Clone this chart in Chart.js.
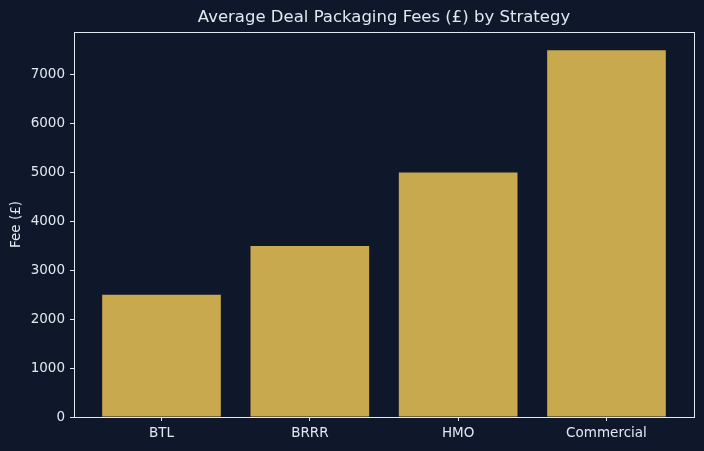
<!DOCTYPE html>
<html lang="en">
<head>
<meta charset="UTF-8">
<title>Average Deal Packaging Fees</title>
<style>
body { margin:0; padding:0; background:#0f172a; }
#wrap { width:704px; height:451px; }
</style>
</head>
<body>
<div id="wrap"><canvas id="chart" width="704" height="451"></canvas></div>
<script src="https://cdn.jsdelivr.net/npm/chart.js"></script>
<script>
const strategies = ['BTL', 'BRRR', 'HMO', 'Commercial'];
const fees = [2500, 3500, 5000, 7500];
const yTicks = [0, 1000, 2000, 3000, 4000, 5000, 6000, 7000];
const titleText = 'Average Deal Packaging Fees (£) by Strategy';

const fg = '#e2e8f0';
const font = 'DejaVu Sans, sans-serif';

// full box around the plot, plus a title centred over the axes (like matplotlib)
const boxPlugin = {
  id: 'box',
  afterDraw(chart) {
    const a = chart.chartArea, c = chart.ctx;
    c.save();
    c.strokeStyle = fg;
    c.lineWidth = 1;
    c.strokeRect(Math.round(a.left) + 0.5, Math.round(a.top) + 0.5,
      Math.round(a.right - a.left), Math.round(a.bottom - a.top));
    c.fillStyle = fg;
    c.font = '16.5px ' + font;
    c.textAlign = 'center';
    c.textBaseline = 'middle';
    c.fillText(titleText, (a.left + a.right) / 2, a.top - 14);
    c.restore();
  }
};

new Chart(document.getElementById('chart'), {
  type: 'bar',
  data: {
    datasets: [{
      data: fees.map((v, i) => ({ x: i, y: v })),
      backgroundColor: '#c9a94d',
      borderWidth: 0,
      inflateAmount: 0,
      categoryPercentage: 1,
      barPercentage: 0.8
    }]
  },
  options: {
    responsive: false,
    animation: false,
    layout: { padding: { left: 0, right: 10, top: 32, bottom: 0 } },
    plugins: {
      legend: { display: false },
      tooltip: { enabled: false },
      title: { display: false }
    },
    scales: {
      x: {
        type: 'linear',
        offset: false,
        min: -0.59,
        max: 3.59,
        afterBuildTicks(s) { s.ticks = strategies.map((_, i) => ({ value: i })); },
        afterFit(s) { s.height = 34; },
        ticks: {
          color: fg,
          font: { family: font, size: 13.5 },
          padding: 4,
          maxRotation: 0,
          callback: v => strategies[v]
        },
        grid: { display: true, offset: false, drawOnChartArea: false, drawTicks: true, tickLength: 4, color: fg },
        border: { display: true, color: fg }
      },
      y: {
        min: 0,
        max: 7875,
        afterBuildTicks(s) { s.ticks = yTicks.map(v => ({ value: v })); },
        afterFit(s) { s.width = 74; },
        ticks: {
          color: fg,
          font: { family: font, size: 13.5 },
          padding: 5,
          callback: v => String(v)
        },
        grid: { display: true, drawOnChartArea: false, drawTicks: true, tickLength: 4, color: fg },
        border: { display: true, color: fg },
        title: {
          display: true,
          text: 'Fee (£)',
          color: fg,
          font: { family: font, size: 13.5 },
          padding: { top: 8, bottom: 0 }
        }
      }
    }
  },
  plugins: [boxPlugin]
});
</script>
</body>
</html>
